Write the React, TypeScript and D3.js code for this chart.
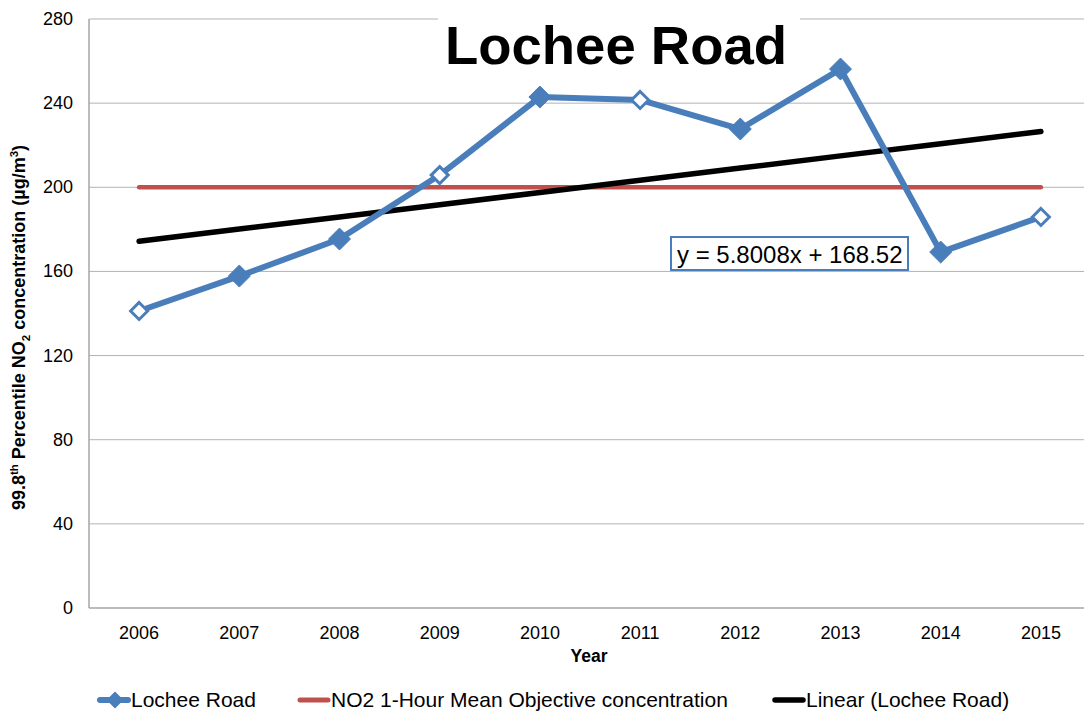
import React from "react";
import * as d3 from "d3";

const years = ["2006", "2007", "2008", "2009", "2010", "2011", "2012", "2013", "2014", "2015"];
const locheeRoad = [141.2, 157.8, 175.4, 205.8, 242.9, 241.5, 227.7, 256.2, 169.2, 185.9];
const openMarker = [true, false, false, true, false, true, false, false, false, true];
const objective = 200;
const trendSlope = 5.8008;
const trendIntercept = 168.52;
const yTicks = [0, 40, 80, 120, 160, 200, 240, 280];

const W = 1084, H = 716;
const FONT = "'Liberation Sans', Arial, sans-serif";
const BLUE = "#4a7ebb";
const RED = "#c0504d";

export default function App() {
  const left = 89, right = 1091, top = 19, bottom = 608;
  const x = d3.scaleBand<string>().domain(years).range([left, right]);
  const y = d3.scaleLinear().domain([0, 280]).range([bottom, top]);
  const cx = (yr: string) => (x(yr) as number) + x.bandwidth() / 2;

  const line = d3.line<number>().x((_, i) => cx(years[i])).y((d) => y(d));
  const trend = years.map((_, i) => trendIntercept + trendSlope * (i + 1));
  const obj = years.map(() => objective);

  const diamond = (px: number, py: number, s: number) =>
    `M${px},${py - s}L${px + s},${py}L${px},${py + s}L${px - s},${py}Z`;

  return (
    <svg width={W} height={H} style={{ position: "absolute", left: 0, top: 0, background: "#fff" }} fontFamily={FONT}>
      {yTicks.map((t) => (
        <g key={t}>
          {t > 0 && <line x1={left} x2={W} y1={y(t)} y2={y(t)} stroke="#b3b3b3" strokeWidth={1} />}
          <text x={73} y={y(t) + 6} textAnchor="end" fontSize={18} fill="#000">{t}</text>
        </g>
      ))}
      <line x1={left} x2={left} y1={top} y2={bottom} stroke="#a6a6a6" strokeWidth={1.5} />
      <line x1={left} x2={W} y1={bottom} y2={bottom} stroke="#a6a6a6" strokeWidth={1.5} />
      {years.map((yr) => (
        <text key={yr} x={cx(yr)} y={639} textAnchor="middle" fontSize={18}>{yr}</text>
      ))}
      <text x={589} y={662} textAnchor="middle" fontSize={17.5} fontWeight="bold">Year</text>
      <text transform={`translate(25,${(top + bottom) / 2 + 14}) rotate(-90)`} textAnchor="middle" fontSize={18} fontWeight="bold">
        99.8<tspan fontSize={11.5} dy={-7}>th</tspan>
        <tspan dy={7}> Percentile NO</tspan>
        <tspan fontSize={11.5} dy={5}>2</tspan>
        <tspan dy={-5}> concentration (µg/m</tspan>
        <tspan fontSize={11.5} dy={-7}>3</tspan>
        <tspan dy={7}>)</tspan>
      </text>

      {/* title */}
      <rect x={438} y={0} width={362} height={72} fill="#fff" />
      <text x={616} y={64} textAnchor="middle" fontSize={54.5} fontWeight="bold">Lochee Road</text>

      <path d={line(obj) as string} fill="none" stroke={RED} strokeWidth={4.5} strokeLinecap="round" />
      <path d={line(trend) as string} fill="none" stroke="#000" strokeWidth={5.5} strokeLinecap="round" />
      <path d={line(locheeRoad) as string} fill="none" stroke={BLUE} strokeWidth={6} strokeLinejoin="round" />
      {locheeRoad.map((v, i) => (
        <path
          key={i}
          d={diamond(cx(years[i]), y(v), openMarker[i] ? 8.5 : 11)}
          fill={openMarker[i] ? "#fff" : BLUE}
          stroke={BLUE}
          strokeWidth={openMarker[i] ? 3 : 1}
        />
      ))}

      {/* equation box */}
      <rect x={671} y={237} width={237} height={33} fill="#fff" stroke={BLUE} strokeWidth={2} />
      <text x={677} y={263} fontSize={24}>y = 5.8008x + 168.52</text>

      {/* legend */}
      <line x1={100} x2={128} y1={700} y2={700} stroke={BLUE} strokeWidth={6} strokeLinecap="round" />
      <path d={diamond(115, 700, 8.5)} fill={BLUE} />
      <text x={131} y={707} fontSize={21}>Lochee Road</text>
      <line x1={300} x2={328} y1={700} y2={700} stroke={RED} strokeWidth={5} strokeLinecap="round" />
      <text x={331} y={707} fontSize={21}>NO2 1-Hour Mean Objective concentration</text>
      <line x1={775} x2={803} y1={700} y2={700} stroke="#000" strokeWidth={5.5} strokeLinecap="round" />
      <text x={806} y={707} fontSize={21}>Linear (Lochee Road)</text>
    </svg>
  );
}
